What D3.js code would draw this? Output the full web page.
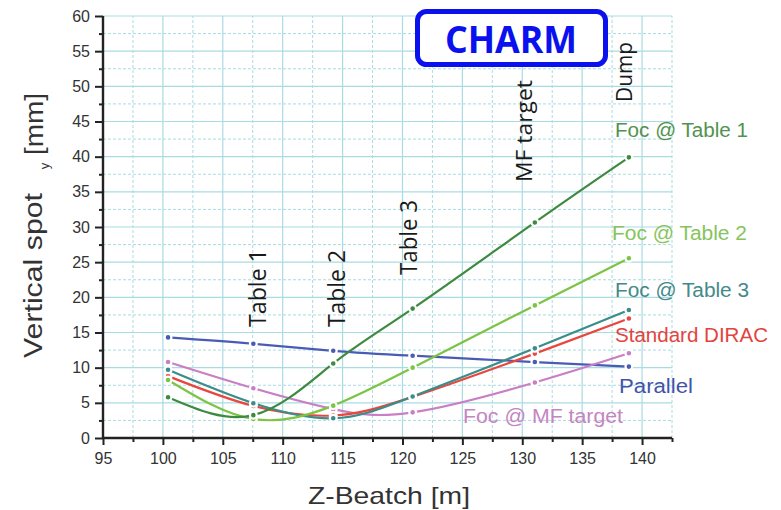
<!DOCTYPE html>
<html><head><meta charset="utf-8">
<script src="https://cdn.jsdelivr.net/npm/d3@7"></script>
<style>body{margin:0;background:#fff}svg{display:block}</style>
</head><body><svg id="c" width="781" height="510"></svg>
<script>
const zPos = [100.43, 107.55, 114.22, 120.85, 131.05, 138.9];
const parallel   = [14.3, 13.4, 12.4, 11.7, 10.8, 10.15];
const focTable1  = [5.8, 3.25, 10.6, 18.4, 30.65, 39.9];
const focTable2  = [8.25, 2.7, 4.6, 10.0, 18.85, 25.55];
const focTable3  = [9.7, 4.95, 2.8, 5.9, 12.75, 18.2];
const standard   = [8.8, 4.55, 3.2, 5.85, 12.0, 17.0];
const focMF      = [10.8, 7.07, 4.1, 3.65, 7.9, 12.05];
const xTicks = [95,100,105,110,115,120,125,130,135,140];
const yTicks = [0,5,10,15,20,25,30,35,40,45,50,55,60];
const stations = ["Table 1","Table 2","Table 3","MF target","Dump"];

const series = [
  {name:"Parallel", v:parallel, c:"#4a5bb5", lc:"#4353aa", lx:619, ly:393, len:74},
  {name:"Foc @ MF target", v:focMF, c:"#c97fc4", lc:"#c585c0", lx:463, ly:423, len:160},
  {name:"Standard DIRAC", v:standard, c:"#e8463e", lc:"#e4443e", lx:615, ly:342, len:153},
  {name:"Foc @ Table 3", v:focTable3, c:"#3a8d89", lc:"#43898a", lx:615, ly:297, len:134},
  {name:"Foc @ Table 2", v:focTable2, c:"#7cc444", lc:"#86c45c", lx:612, ly:240, len:135},
  {name:"Foc @ Table 1", v:focTable1, c:"#3e8a40", lc:"#52924f", lx:615, ly:137, len:133}
];

const svg = d3.select("#c");
const x = d3.scaleLinear().domain([95,142.5]).range([103,672]);
const y = d3.scaleLinear().domain([0,60]).range([438,16]);

// grid
const g = svg.append("g");
const gridColor = "#a9dbe2";
for (let v=97.5; v<=142.5; v+=2.5){
  const major = Math.abs(v%5)<1e-6;
  g.append("line").attr("x1",x(v)).attr("x2",x(v)).attr("y1",y(0)).attr("y2",y(60))
   .attr("stroke",gridColor).attr("stroke-width",major?1.2:1)
   .attr("stroke-dasharray",major?null:"3,2");
}
for (let v=2.5; v<=60; v+=2.5){
  const major = Math.abs(v%5)<1e-6;
  g.append("line").attr("x1",x(95)).attr("x2",x(142.5)).attr("y1",y(v)).attr("y2",y(v))
   .attr("stroke",gridColor).attr("stroke-width",major?1.2:1)
   .attr("stroke-dasharray",major?null:"3,2");
}

// axes
const xAxis = d3.axisBottom(x).tickValues(xTicks).tickSize(7).tickPadding(8).tickFormat(d3.format("d"));
const yAxis = d3.axisLeft(y).tickValues(yTicks).tickSize(8).tickPadding(5).tickFormat(d3.format("d"));
const xa = svg.append("g").attr("transform","translate(0,438)").call(xAxis);
const ya = svg.append("g").attr("transform","translate(103,0)").call(yAxis);
const minorX = d3.range(97.5,143,5);
svg.append("g").attr("transform","translate(0,438)").call(d3.axisBottom(x).tickValues(minorX).tickSize(4).tickFormat(""))
  .call(s=>s.select(".domain").remove());
const minorY = d3.range(2.5,60,5);
svg.append("g").attr("transform","translate(103,0)").call(d3.axisLeft(y).tickValues(minorY).tickSize(4).tickFormat(""))
  .call(s=>s.select(".domain").remove());
svg.selectAll(".domain").attr("stroke","#222").attr("stroke-width",2.4);
svg.selectAll(".tick line").attr("stroke","#222").attr("stroke-width",2);
[xa,ya].forEach(a=>a.selectAll("text").attr("font-family","Liberation Sans, Arial, sans-serif").attr("font-size",16).attr("fill","#333"));
xa.selectAll(".domain").attr("d","M103,0H672");
ya.selectAll(".domain").attr("d","M0,438V16");

// lines
const line = d3.line().x((d,i)=>x(zPos[i])).y(d=>y(d)).curve(d3.curveNatural);
series.forEach(s=>{
  svg.append("path").datum(s.v).attr("d",line).attr("fill","none")
     .attr("stroke",s.c).attr("stroke-width",2.2);
});
series.forEach(s=>{
  svg.append("g").selectAll("circle").data(s.v).join("circle")
    .attr("cx",(d,i)=>x(zPos[i])).attr("cy",d=>y(d)).attr("r",3.4)
    .attr("fill",s.c).attr("stroke","#fff").attr("stroke-width",2.2);
});

// series labels
series.forEach(s=>{
  svg.append("text").attr("x",s.lx).attr("y",s.ly).text(s.name)
    .attr("font-family","Liberation Sans, Arial, sans-serif").attr("font-size",19.5).attr("fill",s.lc)
    .attr("textLength",s.len).attr("lengthAdjust","spacingAndGlyphs");
});

// station labels (rotated)
const stPos = [[266,327,78,23],[345,327,77,23],[417,275,75,23],[532,182,102,22],[632,102,60,22]];
stations.forEach((t,i)=>{
  const p = stPos[i];
  svg.append("text").attr("transform",`translate(${p[0]},${p[1]}) rotate(-90)`)
    .text(t).attr("font-family","Open Sans, Lato, sans-serif").attr("font-size",p[3]).attr("fill","#1a1a1a")
    .attr("textLength",p[2]).attr("lengthAdjust","spacingAndGlyphs");
});

// CHARM box
svg.append("rect").attr("x",417.5).attr("y",11.5).attr("width",188).attr("height",53).attr("rx",9)
  .attr("fill","#fff").attr("stroke","#0a10ee").attr("stroke-width",5);
svg.append("text").attr("x",445).attr("y",53).text("CHARM")
  .attr("font-family","Open Sans, Lato, sans-serif").attr("font-weight","bold").attr("font-size",37).attr("fill","#0a10ee")
  .attr("textLength",132).attr("lengthAdjust","spacingAndGlyphs");

// axis titles
svg.append("text").attr("x",308).attr("y",504).text("Z-Beatch [m]")
  .attr("font-family","Liberation Sans, Arial, sans-serif").attr("font-size",24).attr("fill","#333")
  .attr("textLength",162).attr("lengthAdjust","spacingAndGlyphs");
const ytFont = "Liberation Sans, Arial, sans-serif";
svg.append("text").attr("transform","translate(42,358) rotate(-90)").text("Vertical spot")
  .attr("font-family",ytFont).attr("font-size",26).attr("fill","#333")
  .attr("textLength",165).attr("lengthAdjust","spacingAndGlyphs");
svg.append("text").attr("transform","translate(49,166) rotate(-90)").attr("text-anchor","middle").text("y")
  .attr("font-family",ytFont).attr("font-size",13).attr("fill","#333");
svg.append("text").attr("transform","translate(43,155) rotate(-90)").text("[mm]")
  .attr("font-family",ytFont).attr("font-size",26).attr("fill","#333")
  .attr("textLength",62).attr("lengthAdjust","spacingAndGlyphs");
</script></body></html>
